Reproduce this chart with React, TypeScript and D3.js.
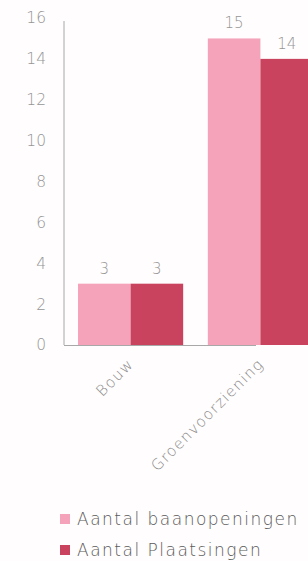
import * as d3 from 'd3';
import { useLayoutEffect, useRef } from 'react';

const categories = ['Bouw', 'Groenvoorziening'];
const seriesNames = ['Aantal baanopeningen', 'Aantal Plaatsingen'];
const baanopeningen = [3, 15];
const plaatsingen = [3, 14];
const yTicks = [0, 2, 4, 6, 8, 10, 12, 14, 16];
const colors = ['#f5a3bb', '#c9435f'];

const W = 308;
const H = 561;

export default function App() {
  const ref = useRef<SVGSVGElement>(null);

  useLayoutEffect(() => {
    if (!ref.current) return;
    const svg = d3.select(ref.current);
    svg.selectAll('*').remove();

    const font = '"DejaVu Sans", Verdana, sans-serif';
    const margin = { left: 64, top: 18, bottom: 345 };

    svg.append('rect').attr('width', W).attr('height', H).attr('fill', '#fffdfd');

    const y = d3.scaleLinear().domain([0, 16]).range([margin.bottom, margin.top]);
    const x0 = d3
      .scaleBand()
      .domain(categories)
      .range([margin.left, 327])
      .paddingInner(0.19)
      .paddingOuter(0.108);
    const x1 = d3.scaleBand().domain(seriesNames).range([0, x0.bandwidth()]);

    // y axis
    const yAxis = d3.axisLeft(y).tickValues(yTicks).tickSize(0).tickPadding(18);
    const gy = svg.append('g').attr('transform', `translate(${margin.left},0)`).call(yAxis);
    gy.select('.domain').attr('stroke', '#a8a8a8').attr('d', `M0,${y(16) + 3}V${margin.bottom}`);
    gy.selectAll('text')
      .attr('fill', '#959595')
      .style('font-family', font)
      .style('font-size', '15.5px')
      .style('font-weight', '200');

    // baseline
    svg
      .append('line')
      .attr('x1', margin.left)
      .attr('x2', 256)
      .attr('y1', y(0) + 0.5)
      .attr('y2', y(0) + 0.5)
      .attr('stroke', '#a8a8a8');

    const rows = categories.map((c, i) => ({
      cat: c,
      vals: [baanopeningen[i], plaatsingen[i]],
    }));

    const groups = svg
      .selectAll('g.grp')
      .data(rows)
      .join('g')
      .attr('class', 'grp')
      .attr('transform', (d) => `translate(${x0(d.cat)},0)`);

    groups
      .selectAll('rect')
      .data((d) => d.vals.map((v, j) => ({ v, s: seriesNames[j], j })))
      .join('rect')
      .attr('x', (d) => x1(d.s) ?? 0)
      .attr('y', (d) => y(d.v))
      .attr('width', x1.bandwidth())
      .attr('height', (d) => y(0) - y(d.v))
      .attr('fill', (d) => colors[d.j]);

    groups
      .selectAll('text.val')
      .data((d) => d.vals.map((v, j) => ({ v, s: seriesNames[j] })))
      .join('text')
      .attr('class', 'val')
      .attr('x', (d) => (x1(d.s) ?? 0) + x1.bandwidth() / 2)
      .attr('y', (d) => y(d.v) - 10)
      .attr('text-anchor', 'middle')
      .attr('fill', '#959595')
      .style('font-family', font)
      .style('font-size', '15px')
      .style('font-weight', '200')
      .text((d) => d.v);

    // x labels
    svg
      .selectAll('text.xl')
      .data(categories)
      .join('text')
      .attr('class', 'xl')
      .attr(
        'transform',
        (d) => `translate(${(x0(d) ?? 0) + x0.bandwidth() / 2 + 4},${y(0) + 20}) rotate(-45)`,
      )
      .attr('text-anchor', 'end')
      .attr('fill', '#8a8a8a')
      .style('font-family', font)
      .style('font-size', '15px')
      .style('font-weight', '200')
      .style('letter-spacing', '1.2px')
      .text((d) => d);

    // legend
    const legend = svg
      .selectAll('g.leg')
      .data(seriesNames)
      .join('g')
      .attr('class', 'leg')
      .attr('transform', (_, i) => `translate(60,${514 + i * 31})`);
    legend
      .append('rect')
      .attr('width', 10)
      .attr('height', 10)
      .attr('fill', (_, i) => colors[i]);
    legend
      .append('text')
      .attr('x', 17)
      .attr('y', 10.5)
      .attr('fill', '#5a5a5a')
      .style('font-family', font)
      .style('font-size', '17px')
      .style('font-weight', '200')
      .style('letter-spacing', '1.5px')
      .text((d) => d);
  }, []);

  return (
    <svg
      ref={ref}
      width={W}
      height={H}
      style={{ position: 'fixed', left: 0, top: 0, display: 'block' }}
    />
  );
}
